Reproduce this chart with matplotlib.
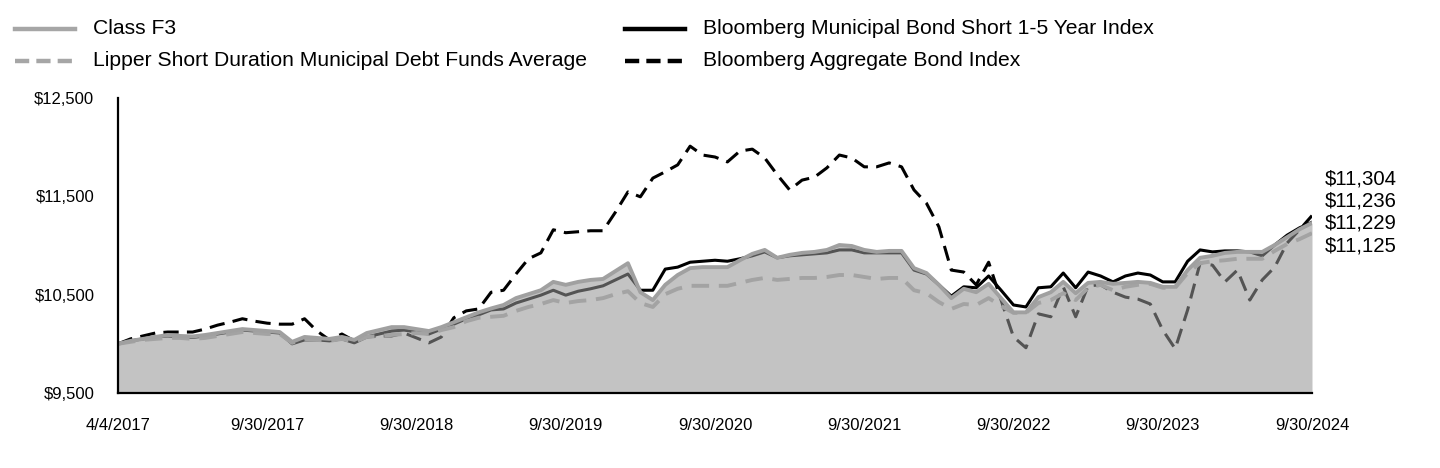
import matplotlib
matplotlib.use("Agg")
import matplotlib.pyplot as plt
from matplotlib.lines import Line2D
import numpy as np

plt.rcParams['font.family'] = ['Liberation Sans', 'DejaVu Sans']

# ---- data (monthly, growth of $10,000) ----
class_f3 = [10000, 10030, 10050, 10070, 10090, 10080, 10075, 10090, 10110, 10130,
            10150, 10140, 10130, 10120, 10020, 10070, 10060, 10050, 10070, 10040,
            10110, 10140, 10170, 10170, 10150, 10130, 10170, 10220, 10270, 10320,
            10360, 10395, 10465, 10505, 10545, 10630, 10600, 10630, 10650, 10660,
            10740, 10820, 10525, 10445, 10600, 10700, 10770, 10780, 10780, 10780,
            10850, 10915, 10955, 10875, 10905, 10925, 10935, 10955, 11005, 10995,
            10955, 10935, 10945, 10945, 10770, 10720, 10600, 10465, 10560, 10525,
            10610, 10465, 10320, 10320, 10475, 10525, 10630, 10515, 10620, 10630,
            10610, 10620, 10630, 10620, 10580, 10580, 10750, 10875, 10895, 10925,
            10935, 10935, 10935, 11005, 11085, 11165, 11229]

muni_1_5 = [10000, 10030, 10050, 10070, 10080, 10070, 10065, 10080, 10100, 10120,
            10140, 10130, 10120, 10110, 10000, 10040, 10040, 10030, 10050, 10010,
            10070, 10100, 10130, 10140, 10120, 10100, 10150, 10200, 10255, 10295,
            10345, 10355, 10415, 10455, 10495, 10545, 10495, 10535, 10560, 10590,
            10650, 10710, 10545, 10545, 10760, 10780, 10830, 10840, 10850, 10840,
            10865, 10895, 10935, 10875, 10895, 10905, 10915, 10925, 10955, 10955,
            10925, 10925, 10925, 10925, 10750, 10710, 10600, 10485, 10580, 10570,
            10690, 10545, 10395, 10375, 10570, 10580, 10720, 10570, 10730, 10690,
            10630, 10690, 10720, 10700, 10630, 10630, 10840, 10955, 10935, 10945,
            10945, 10935, 10895, 11005, 11105, 11180, 11236]

lipper_avg = [10000, 10020, 10040, 10050, 10060, 10060, 10050, 10060, 10080, 10100,
              10120, 10110, 10100, 10100, 10010, 10050, 10040, 10030, 10050, 10020,
              10070, 10080, 10090, 10100, 10110, 10100, 10140, 10170, 10230, 10265,
              10275, 10285, 10335, 10375, 10405, 10445, 10415, 10435, 10445, 10465,
              10505, 10535, 10415, 10375, 10505, 10560, 10590, 10590, 10590, 10590,
              10620, 10650, 10670, 10650, 10660, 10670, 10670, 10680, 10700, 10700,
              10680, 10660, 10670, 10670, 10545, 10515, 10425, 10355, 10405, 10395,
              10465, 10385, 10315, 10315, 10415, 10445, 10515, 10445, 10570, 10600,
              10545, 10580, 10600, 10610, 10570, 10570, 10720, 10820, 10840, 10850,
              10865, 10865, 10865, 10945, 11015, 11065, 11125]

agg_bond = [10000, 10050, 10080, 10110, 10120, 10120, 10120, 10150, 10190, 10220,
            10255, 10230, 10210, 10200, 10200, 10255, 10130, 10040, 10100, 10030,
            10070, 10080, 10080, 10110, 10060, 10010, 10070, 10265, 10335, 10355,
            10525, 10545, 10710, 10865, 10925, 11160, 11130, 11140, 11150, 11150,
            11340, 11545, 11495, 11685, 11750, 11820, 12010, 11920, 11900, 11850,
            11960, 11980, 11890, 11720, 11565, 11665, 11695, 11790, 11920, 11890,
            11800, 11800, 11840, 11800, 11565, 11430, 11190, 10750, 10730, 10600,
            10830, 10445, 10070, 9960, 10305, 10275, 10580, 10275, 10590, 10600,
            10525, 10475, 10455, 10405, 10140, 9950, 10345, 10820, 10800, 10630,
            10750, 10445, 10650, 10780, 11025, 11160, 11304]

tick_labels = ["4/4/2017", "9/30/2017", "9/30/2018", "9/30/2019", "9/30/2020",
               "9/30/2021", "9/30/2022", "9/30/2023", "9/30/2024"]
tick_index = [0, 12, 24, 36, 48, 60, 72, 84, 96]
y_ticks = [9500, 10500, 11500, 12500]

series_names = ["Class F3", "Lipper Short Duration Municipal Debt Funds Average",
                "Bloomberg Municipal Bond Short 1-5 Year Index", "Bloomberg Aggregate Bond Index"]

x = np.arange(len(class_f3))

fig = plt.figure(figsize=(14.4, 4.68), dpi=100)
ax = fig.add_axes([118/1440, 75/468, (1312-118)/1440, (393-98)/468])

ax.plot(x, agg_bond, color='black', lw=2.2, dashes=(5, 2.7), zorder=2)
ax.plot(x, muni_1_5, color='black', lw=2.2, zorder=2)
ax.fill_between(x, 9500, class_f3, color='#969696', alpha=0.565, lw=0, zorder=3)
ax.plot(x, lipper_avg, color='#a3a3a3', lw=2.8, dashes=(4.5, 2.5), zorder=4)
ax.plot(x, class_f3, color='#a0a0a0', lw=2.8, zorder=5)

ax.set_xlim(0, len(class_f3) - 1)
ax.set_ylim(9500, 12500)
ax.set_yticks(y_ticks)
ax.set_yticklabels([f"${v:,.0f}" for v in y_ticks], fontsize=12)
ax.set_xticks(tick_index)
ax.set_xticklabels(tick_labels, fontsize=12)
ax.tick_params(axis='x', length=0, pad=18)
ax.tick_params(axis='y', length=0, pad=17)
for s in ['top', 'right']:
    ax.spines[s].set_visible(False)
ax.spines['left'].set_linewidth(1.6)
ax.spines['bottom'].set_linewidth(1.6)
ax.spines['left'].set_zorder(6)
ax.spines['bottom'].set_zorder(6)

# end value labels
end_vals = sorted([agg_bond[-1], muni_1_5[-1], class_f3[-1], lipper_avg[-1]], reverse=True)
for k, v in enumerate(end_vals):
    fig.text(1325/1440, 1 - (179 + 22.2*k)/468, f"${v:,.0f}", fontsize=14.7,
             ha='left', va='center')

# legend
leg = [
    (15, 75, 93, 29, series_names[0], '#a6a6a6', None),
    (15, 75, 93, 61, series_names[1], '#a6a6a6', (3.2, 1.6)),
    (625, 685, 703, 29, series_names[2], 'black', None),
    (625, 685, 703, 61, series_names[3], 'black', (3.2, 1.6)),
]
for x0, x1, tx, ty, name, col, dsh in leg:
    yy = 1 - ty/468
    ln = Line2D([x0/1440, x1/1440], [yy, yy], transform=fig.transFigure,
                color=col, lw=3.2)
    if dsh:
        ln.set_dashes(dsh)
    fig.add_artist(ln)
    fig.text(tx/1440, yy, name, fontsize=15.2, ha='left', va='center')

fig.savefig("out.png", dpi=100)
